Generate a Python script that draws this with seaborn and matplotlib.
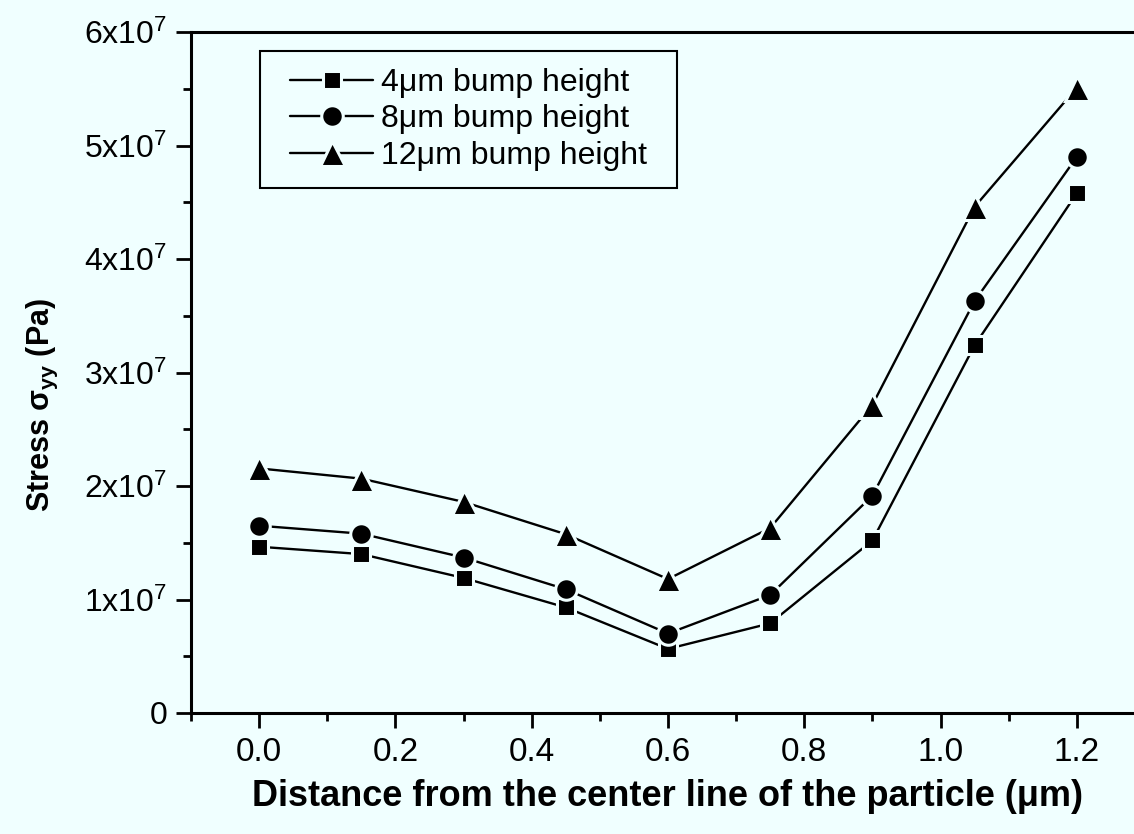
import matplotlib
matplotlib.use("Agg")
import matplotlib.pyplot as plt
import seaborn as sns
import pandas as pd
from matplotlib.ticker import MultipleLocator, FuncFormatter
from matplotlib.patches import Rectangle

distance = [0.0, 0.15, 0.3, 0.45, 0.6, 0.75, 0.9, 1.05, 1.2]
stress_4um = [1.465e7, 1.40e7, 1.19e7, 0.93e7, 0.565e7, 0.79e7, 1.52e7, 3.24e7, 4.58e7]
stress_8um = [1.65e7, 1.58e7, 1.37e7, 1.09e7, 0.70e7, 1.04e7, 1.915e7, 3.63e7, 4.90e7]
stress_12um = [2.155e7, 2.065e7, 1.86e7, 1.575e7, 1.18e7, 1.63e7, 2.715e7, 4.46e7, 5.51e7]
labels = ["4\u03bcm bump height", "8\u03bcm bump height", "12\u03bcm bump height"]
y_tick_labels = ["0", "1x10$^{7}$", "2x10$^{7}$", "3x10$^{7}$", "4x10$^{7}$", "5x10$^{7}$", "6x10$^{7}$"]

sns.set_style("ticks")
bg = "#F0FFFF"
plt.rcParams["font.family"] = ["Liberation Sans", "DejaVu Sans"]
plt.rcParams["mathtext.fontset"] = "custom"
plt.rcParams["mathtext.rm"] = "Liberation Sans"
plt.rcParams["mathtext.bf"] = "Liberation Sans:bold"
plt.rcParams["mathtext.it"] = "Liberation Sans:italic"
for k in ["text.color", "axes.labelcolor", "xtick.color", "ytick.color", "axes.edgecolor"]:
    plt.rcParams[k] = "black"

fig = plt.figure(figsize=(11.34, 8.34), dpi=100, facecolor=bg)
ax = fig.add_axes([191/1134, 121/834, (1145-191)/1134, (713-32)/834])
ax.set_facecolor(bg)

df = pd.DataFrame({
    "distance": distance * 3,
    "stress": stress_4um + stress_8um + stress_12um,
    "series": [labels[0]] * 9 + [labels[1]] * 9 + [labels[2]] * 9,
})
markers = {labels[0]: "s", labels[1]: "o", labels[2]: "^"}
sizes = {labels[0]: 13, labels[1]: 15.5, labels[2]: 18}
for lab in labels:
    sub = df[df["series"] == lab]
    sns.lineplot(data=sub, x="distance", y="stress", ax=ax, color="black",
                 marker=markers[lab], markersize=sizes[lab], markeredgecolor=bg,
                 markeredgewidth=2.2, linewidth=1.7, label=lab, clip_on=False)

ax.set_xlim(-0.1, 1.3)
ax.set_ylim(0, 6e7)
ax.xaxis.set_major_locator(MultipleLocator(0.2))
ax.xaxis.set_minor_locator(MultipleLocator(0.1))
ax.yaxis.set_major_locator(MultipleLocator(1e7))
ax.yaxis.set_minor_locator(MultipleLocator(0.5e7))
ax.yaxis.set_major_formatter(FuncFormatter(lambda v, p: y_tick_labels[int(round(v / 1e7))] if 0 <= round(v / 1e7) < len(y_tick_labels) else ""))
ax.xaxis.set_major_formatter(FuncFormatter(lambda v, p: f"{v:.1f}"))

for s in ax.spines.values():
    s.set_linewidth(2.2)
    s.set_color("black")
ax.tick_params(which="major", direction="out", length=11, width=2, colors="black")
ax.tick_params(which="minor", direction="out", length=6, width=2)
ax.tick_params(axis="y", which="major", labelsize=23, pad=6)
ax.tick_params(axis="x", which="major", labelsize=24, pad=6)

ax.set_xlabel("Distance from the center line of the particle (\u03bcm)", fontsize=26,
              fontweight="bold", labelpad=8)
ax.set_ylabel("Stress \u03c3$_{\\mathbf{yy}}$ (Pa)", fontsize=22, fontweight="bold")
ax.yaxis.set_label_coords(-0.137, 0.452)

leg = ax.legend(loc="upper left", bbox_to_anchor=(99/954, 1 - 36/681), fontsize=23,
                frameon=False, handlelength=2.6, handletextpad=0.25, labelspacing=0.2,
                borderpad=0.0, borderaxespad=0)
for h in leg.get_lines():
    h.set_markeredgecolor(bg)

fig.canvas.draw()
bb = leg.get_window_extent().transformed(fig.transFigure.inverted())
padx, pady = 30 / 1134, 17 / 834
fig.patches.append(Rectangle((bb.x0 - padx, bb.y0 - pady), bb.width + 2 * padx, bb.height + 2 * pady,
                             transform=fig.transFigure, fill=False, edgecolor="black",
                             linewidth=1.5, zorder=5))

fig.savefig("out.png", dpi=100, facecolor=bg)
